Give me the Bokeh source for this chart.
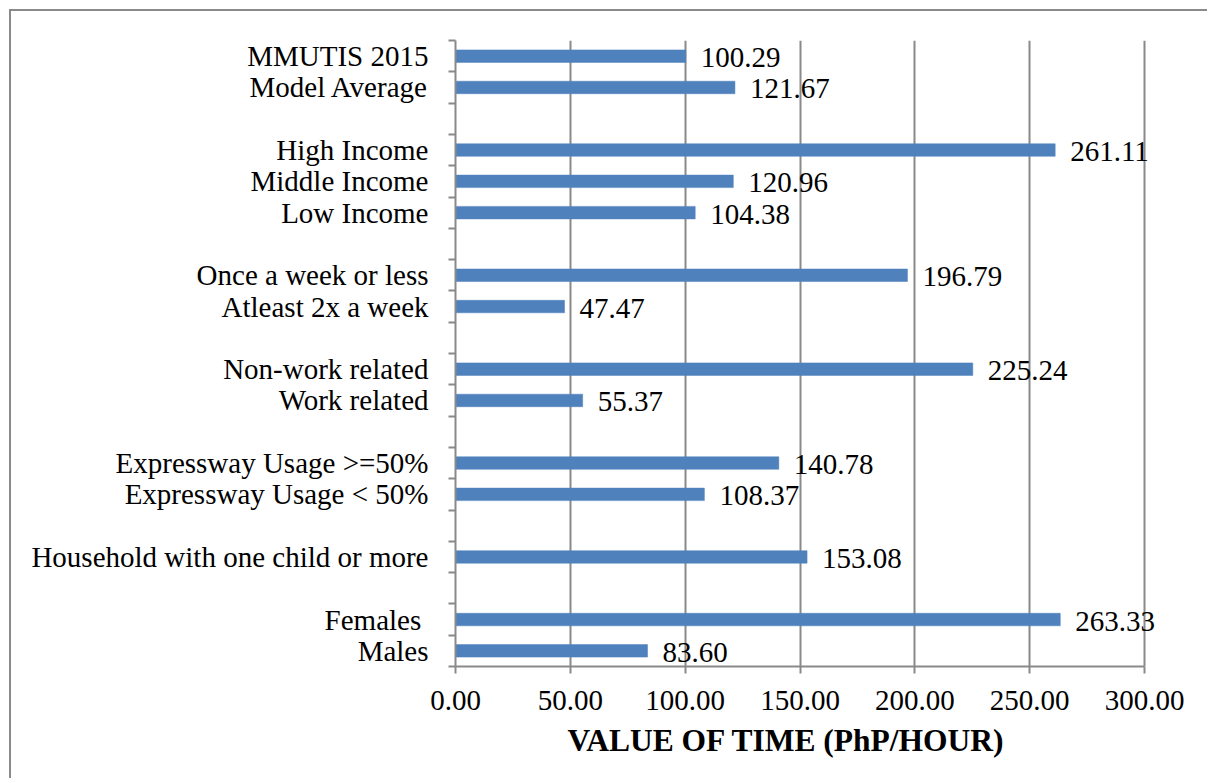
from bokeh.plotting import figure
from bokeh.models import ColumnDataSource, FixedTicker, LabelSet, NumeralTickFormatter, Title
from bokeh.embed import file_html
from bokeh.resources import INLINE

# Category slots from top to bottom ("" = empty gap slot)
categories = ["MMUTIS 2015", "Model Average", "",
              "High Income", "Middle Income", "Low Income", "",
              "Once a week or less", "Atleast 2x a week", "",
              "Non-work related", "Work related", "",
              "Expressway Usage >=50%", "Expressway Usage < 50%", "",
              "Household with one child or more", "",
              "Females ", "Males"]
values = [100.29, 121.67, None,
          261.11, 120.96, 104.38, None,
          196.79, 47.47, None,
          225.24, 55.37, None,
          140.78, 108.37, None,
          153.08, None,
          263.33, 83.60]
x_ticks = [0, 50, 100, 150, 200, 250, 300]
x_title = "VALUE OF TIME (PhP/HOUR)"

n = len(categories)
ys, vs, labs, cats = [], [], [], []
for i, (c, v) in enumerate(zip(categories, values)):
    if v is None:
        continue
    ys.append(n - i - 0.5)
    vs.append(v)
    labs.append(f"{v:.2f}")
    cats.append(c)

src = ColumnDataSource(dict(y=ys, v=vs, lab=labs))

FONT = "Liberation Serif"
GRAY = "#898989"

AXIS_PX = 689          # pixel length of 0..300
FRAME_W = 720          # a little extra room so value labels are not clipped
x_end = x_ticks[-1] * FRAME_W / AXIS_PX

p = figure(frame_width=FRAME_W, frame_height=626,
           x_range=(0, x_end), y_range=(0, n),
           output_backend="svg", toolbar_location=None,
           min_border_left=444, min_border_top=29, min_border_right=32, min_border_bottom=112)
p.styles = {"border-left": "2px solid #8a8a8a", "border-top": "2px solid #8a8a8a",
            "margin-left": "9px", "margin-top": "9px"}
p.outline_line_color = None
p.background_fill_color = "white"

p.hbar(y="y", right="v", left=0, height=0.4, source=src,
       fill_color="#4f81bd", line_color="#4f81bd", line_width=0.5)

labels = LabelSet(x="v", y="y", text="lab", source=src, x_offset=15, y_offset=-11,
                  text_baseline="alphabetic", text_align="left",
                  text_font=FONT, text_font_size="29px", text_color="black")
p.add_layout(labels)

# X axis
p.xaxis.bounds = (x_ticks[0], x_ticks[-1])
p.xaxis.ticker = FixedTicker(ticks=x_ticks)
p.xaxis.formatter = NumeralTickFormatter(format="0.00")
p.xaxis.axis_line_color = GRAY
p.xaxis.axis_line_width = 2
p.xaxis.major_tick_line_color = GRAY
p.xaxis.major_tick_line_width = 2
p.xaxis.major_tick_out = 7
p.xaxis.major_tick_in = 0
p.xaxis.minor_tick_line_color = None
p.xaxis.major_label_text_font = FONT
p.xaxis.major_label_text_font_size = "29px"
p.xaxis.major_label_text_color = "black"
p.xaxis.major_label_standoff = 17

title = Title(text=x_title, align="left", offset=112, standoff=16,
              text_font=FONT, text_font_size="31.5px", text_font_style="bold",
              text_color="black")
p.add_layout(title, "below")

# Y axis
p.yaxis.ticker = FixedTicker(ticks=ys, minor_ticks=list(range(n + 1)))
p.yaxis.major_label_overrides = {y: c for y, c in zip(ys, cats)}
p.yaxis.axis_line_color = GRAY
p.yaxis.axis_line_width = 2
p.yaxis.major_tick_out = 0
p.yaxis.major_tick_in = 0
p.yaxis.major_tick_line_color = None
p.yaxis.minor_tick_out = 7
p.yaxis.minor_tick_in = 0
p.yaxis.minor_tick_line_color = GRAY
p.yaxis.minor_tick_line_width = 2
p.yaxis.major_label_text_font = FONT
p.yaxis.major_label_text_font_size = "29px"
p.yaxis.major_label_text_color = "black"
p.yaxis.major_label_standoff = 20

p.xgrid.ticker = FixedTicker(ticks=x_ticks)
p.xgrid.grid_line_color = GRAY
p.xgrid.grid_line_width = 2
p.ygrid.grid_line_color = None

open("out.html", "w").write(file_html(p, INLINE))
